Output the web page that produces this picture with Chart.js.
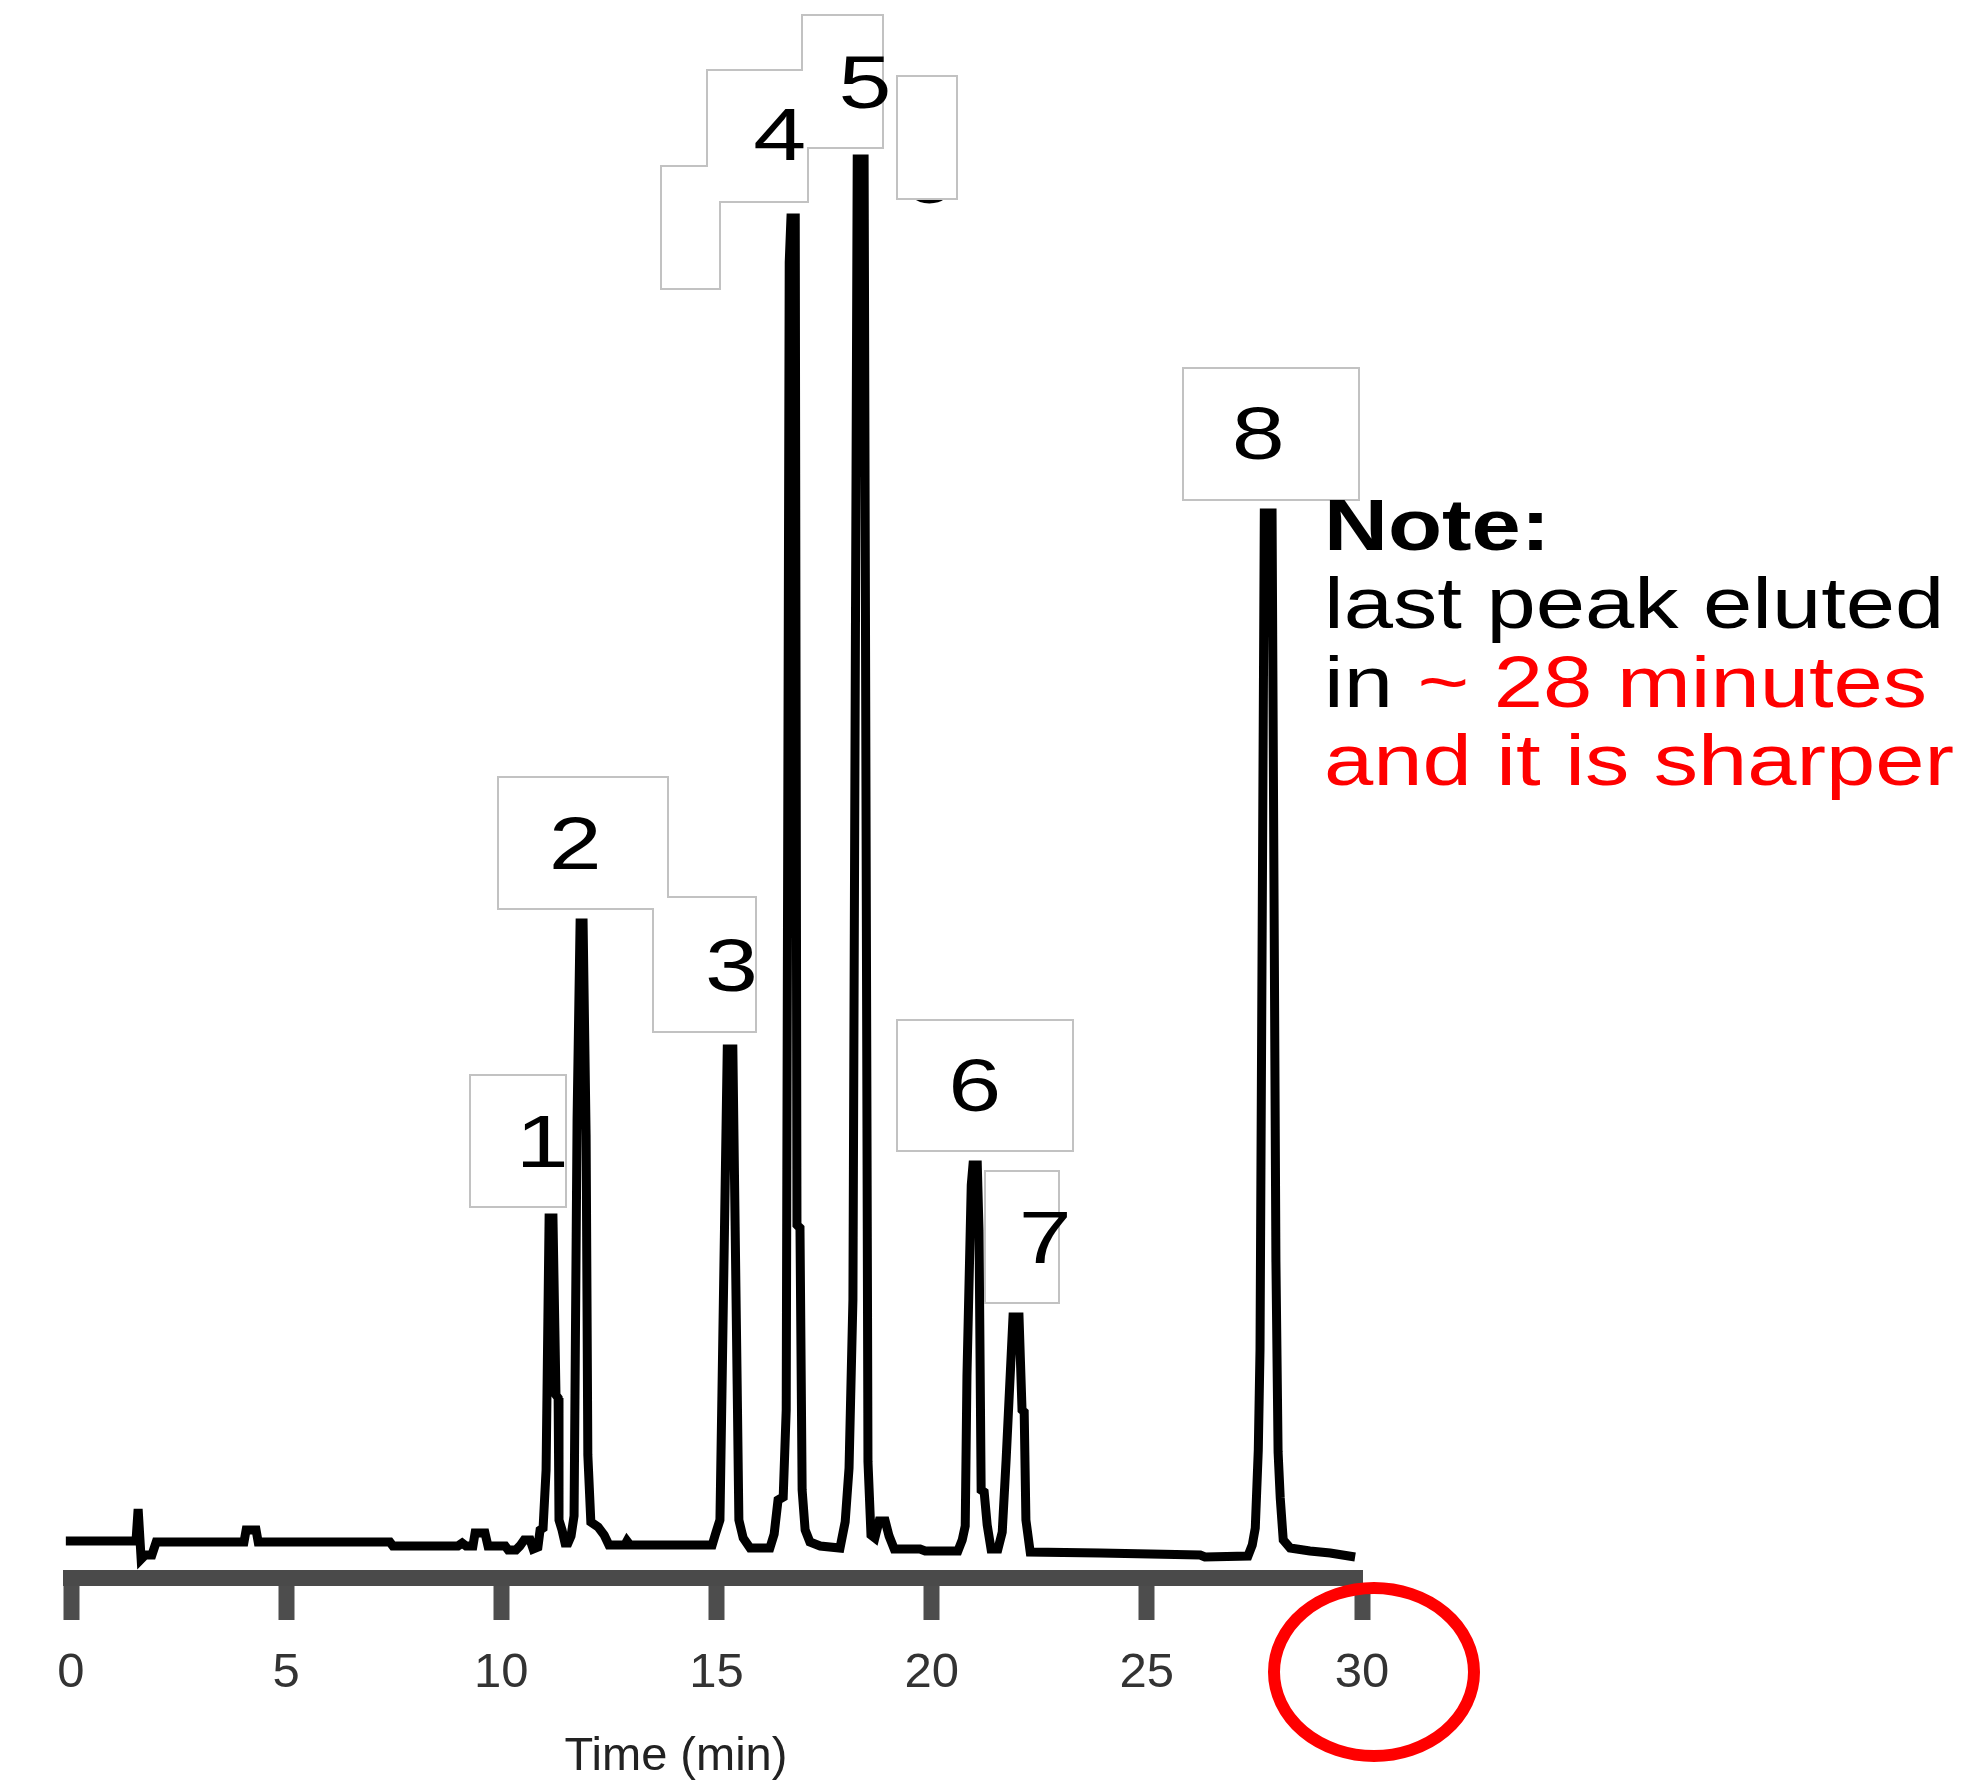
<!DOCTYPE html>
<html>
<head>
<meta charset="utf-8">
<title>Chromatogram</title>
<script src="https://cdn.jsdelivr.net/npm/chart.js@4.4.1/dist/chart.umd.min.js"></script>
<style>
  html, body { margin: 0; padding: 0; background: #ffffff; }
  canvas { display: block; }
</style>
</head>
<body>
<canvas id="chromatogram" width="1977" height="1780"></canvas>
<script>
// Retention time (min) of each recorded point of the trace
const retentionTime = [
  -0.21, -0.12, 1.51, 1.56, 1.63, 1.72, 1.88, 1.98, 4.02, 4.07,
  4.30, 4.35, 7.41, 7.48, 8.99, 9.09, 9.18, 9.34, 9.39, 9.62,
  9.69, 10.09, 10.16, 10.34, 10.43, 10.53, 10.67, 10.74, 10.85, 10.90,
  10.97, 11.04, 11.11, 11.20, 11.27, 11.32, 11.34, 11.41, 11.48, 11.55,
  11.62, 11.69, 11.76, 11.83, 11.90, 11.97, 12.01, 12.08, 12.25, 12.39,
  12.50, 12.87, 12.92, 12.99, 14.90, 14.99, 15.08, 15.13, 15.25, 15.38,
  15.48, 15.52, 15.62, 15.78, 16.24, 16.34, 16.43, 16.55, 16.62, 16.69,
  16.73, 16.83, 16.87, 16.94, 16.99, 17.06, 17.17, 17.41, 17.87, 17.99,
  18.08, 18.17, 18.27, 18.43, 18.52, 18.59, 18.68, 18.78, 18.92, 19.01,
  19.13, 19.73, 19.85, 20.61, 20.71, 20.78, 20.82, 20.92, 20.96, 21.06,
  21.10, 21.15, 21.22, 21.29, 21.38, 21.54, 21.64, 21.73, 21.89, 22.03,
  22.10, 22.15, 22.19, 22.29, 23.91, 26.24, 26.35, 27.35, 27.45, 27.52,
  27.59, 27.63, 27.73, 27.91, 28.00, 28.05, 28.10, 28.17, 28.33, 28.79,
  29.26, 29.84
];

// Detector signal (mAU) at each retention time above
const detectorSignal = [
  4.2, 3.7, 3.7, 6.9, 1.9, 2.3, 2.3, 3.6, 3.6, 4.8,
  4.8, 3.6, 3.6, 3.2, 3.2, 3.5, 3.2, 3.2, 4.5, 4.5,
  3.2, 3.2, 2.8, 2.8, 3.2, 3.8, 3.8, 2.9, 3.1, 4.8,
  5.0, 10.8, 36.0, 36.0, 18.3, 18.0, 5.8, 4.8, 3.5, 3.5,
  4.2, 6.2, 45.8, 65.5, 65.5, 44.3, 12.3, 5.6, 5.1, 4.3,
  3.3, 3.3, 3.7, 3.3, 3.3, 4.6, 5.8, 19.4, 52.9, 52.9,
  19.4, 5.8, 4.0, 3.0, 3.0, 4.4, 7.8, 8.1, 16.8, 131.6,
  136.0, 136.0, 35.3, 35.0, 8.8, 4.8, 3.6, 3.2, 3.0, 5.6,
  11.0, 27.8, 141.9, 141.9, 11.6, 4.3, 4.0, 5.7, 5.7, 4.2,
  2.9, 2.9, 2.7, 2.7, 3.8, 5.2, 20.2, 39.3, 41.3, 41.3,
  34.8, 8.8, 8.6, 5.3, 2.9, 2.9, 4.6, 11.8, 26.1, 26.1,
  16.8, 16.6, 5.8, 2.6, 2.5, 2.3, 2.1, 2.2, 3.3, 5.0,
  12.8, 22.8, 106.5, 106.5, 31.6, 12.6, 8.0, 3.8, 3.0, 2.7,
  2.5, 2.1
];

// Time axis tick values (min)
const timeTicks = [0, 5, 10, 15, 20, 25, 30];

// Peak numbers
const peakNumbers = ['1', '2', '3', '4', '5', '6', '7', '8'];

// Label anchors in axis units: centre time (min) and text baseline (mAU)
const peakLabelTime = [10.95, 11.72, 15.35, 16.47, 18.45, 21.00, 22.64, 27.59];
const peakLabelLevel = [41.1, 70.9, 58.7, 141.8, 147.0, 46.7, 31.5, 111.9];

// Label frames in axis units (left/right min, top/bottom mAU)
const frameLeft   = [9.27, 9.92, 13.53, 13.71, 14.78, 16.99, 19.20, 19.20, 21.24, 25.84];
const frameRight  = [11.50, 13.87, 15.92, 15.08, 17.13, 18.87, 20.59, 23.29, 22.96, 29.93];
const frameTop    = [50.3, 80.1, 68.1, 141.2, 150.8, 156.3, 150.2, 55.8, 40.7, 121.0];
const frameBottom = [37.1, 66.9, 54.6, 128.9, 137.6, 143.0, 137.9, 42.7, 27.5, 107.8];

// A label that sits mostly under one of the empty frames
const coveredLabel = { text: '6', time: 19.92, level: 137.5 };

// Side note, line by line, split into coloured runs
const noteLines = [
  [{ text: 'Note:', color: '#000000', bold: true }],
  [{ text: 'last peak eluted', color: '#000000' }],
  [{ text: 'in ', color: '#000000' }, { text: '~ 28 minutes', color: '#ff0000' }],
  [{ text: 'and it is sharper', color: '#ff0000' }]
];

const FONT = '"Liberation Sans", Arial, Helvetica, sans-serif';
Chart.defaults.font.family = FONT;

function drawStretchedText(ctx, text, cx, baseline, size, stretch, color, weight) {
  ctx.save();
  ctx.font = (weight || 'normal') + ' ' + size + 'px ' + FONT;
  ctx.fillStyle = color;
  ctx.textAlign = 'center';
  ctx.textBaseline = 'alphabetic';
  ctx.translate(cx, baseline);
  ctx.scale(stretch, 1);
  ctx.fillText(text, 0, 0);
  ctx.restore();
}

const annotations = {
  id: 'annotations',
  afterDraw(chart) {
    const { ctx, scales: { x, y } } = chart;
    ctx.save();

    // label partly hidden by a frame drawn over it
    drawStretchedText(ctx, coveredLabel.text, x.getPixelForValue(coveredLabel.time),
      y.getPixelForValue(coveredLabel.level), 75, 1.27, '#000000');

    // frames: outlines first, then white interiors, so overlapping frames merge
    const rects = frameLeft.map((l, i) => {
      const x1 = Math.round(x.getPixelForValue(l));
      const x2 = Math.round(x.getPixelForValue(frameRight[i]));
      const y1 = Math.round(y.getPixelForValue(frameTop[i]));
      const y2 = Math.round(y.getPixelForValue(frameBottom[i]));
      return { x: x1, y: y1, w: x2 - x1, h: y2 - y1 };
    });
    ctx.strokeStyle = '#c2c2c2';
    ctx.lineWidth = 2;
    rects.forEach(r => ctx.strokeRect(r.x, r.y, r.w, r.h));
    ctx.fillStyle = '#ffffff';
    rects.forEach(r => ctx.fillRect(r.x + 1, r.y + 1, r.w - 2, r.h - 2));

    // peak numbers
    peakNumbers.forEach((n, i) => {
      drawStretchedText(ctx, n, x.getPixelForValue(peakLabelTime[i]),
        y.getPixelForValue(peakLabelLevel[i]), 75, 1.27, '#000000');
    });

    // side note
    const noteX = 1324, noteTop = 550, noteStep = 78.3, noteStretch = 1.23;
    noteLines.forEach((runs, li) => {
      ctx.save();
      ctx.translate(noteX, noteTop + li * noteStep);
      ctx.scale(noteStretch, 1);
      ctx.textAlign = 'left';
      ctx.textBaseline = 'alphabetic';
      let cursor = 0;
      runs.forEach(run => {
        ctx.font = (run.bold ? 'bold ' : '') + '72px ' + FONT;
        ctx.fillStyle = run.color;
        ctx.fillText(run.text, cursor, 0);
        cursor += ctx.measureText(run.text).width;
      });
      ctx.restore();
    });

    // axis title
    ctx.font = '47px ' + FONT;
    ctx.fillStyle = '#222222';
    ctx.textAlign = 'center';
    ctx.textBaseline = 'alphabetic';
    ctx.fillText('Time (min)', 676, 1770);

    // ring around the end of the run
    ctx.beginPath();
    ctx.ellipse(x.getPixelForValue(30) + 12, 1672, 100, 84, 0, 0, Math.PI * 2);
    ctx.lineWidth = 12;
    ctx.strokeStyle = '#ff0000';
    ctx.stroke();

    ctx.restore();
  }
};

new Chart(document.getElementById('chromatogram'), {
  type: 'line',
  data: {
    datasets: [{
      label: 'Signal',
      data: retentionTime.map((t, i) => ({ x: t, y: detectorSignal[i] })),
      borderColor: '#000000',
      borderWidth: 9,
      borderJoinStyle: 'miter',
      borderCapStyle: 'butt',
      pointRadius: 0,
      tension: 0,
      fill: false,
      clip: false
    }]
  },
  options: {
    responsive: false,
    animation: false,
    devicePixelRatio: 1,
    layout: { padding: { left: 71, right: 615, top: 78, bottom: 53.2 } },
    plugins: {
      legend: { display: false },
      tooltip: { enabled: false },
      title: { display: false }
    },
    scales: {
      x: {
        type: 'linear',
        position: 'bottom',
        min: 0,
        max: 30,
        afterBuildTicks: scale => { scale.ticks = timeTicks.map(v => ({ value: v })); },
        ticks: {
          padding: 24,
          color: '#333333',
          font: { family: FONT, size: 49 },
          maxRotation: 0,
          autoSkip: false
        },
        grid: {
          display: true,
          drawOnChartArea: false,
          drawTicks: true,
          tickLength: 42,
          tickWidth: 16,
          tickColor: '#4d4d4d'
        },
        border: { display: true, width: 16, color: '#4a4a4a' },
        title: { display: false }
      },
      y: { display: false, min: 0, max: 150 }
    }
  },
  plugins: [annotations]
});
</script>
</body>
</html>
